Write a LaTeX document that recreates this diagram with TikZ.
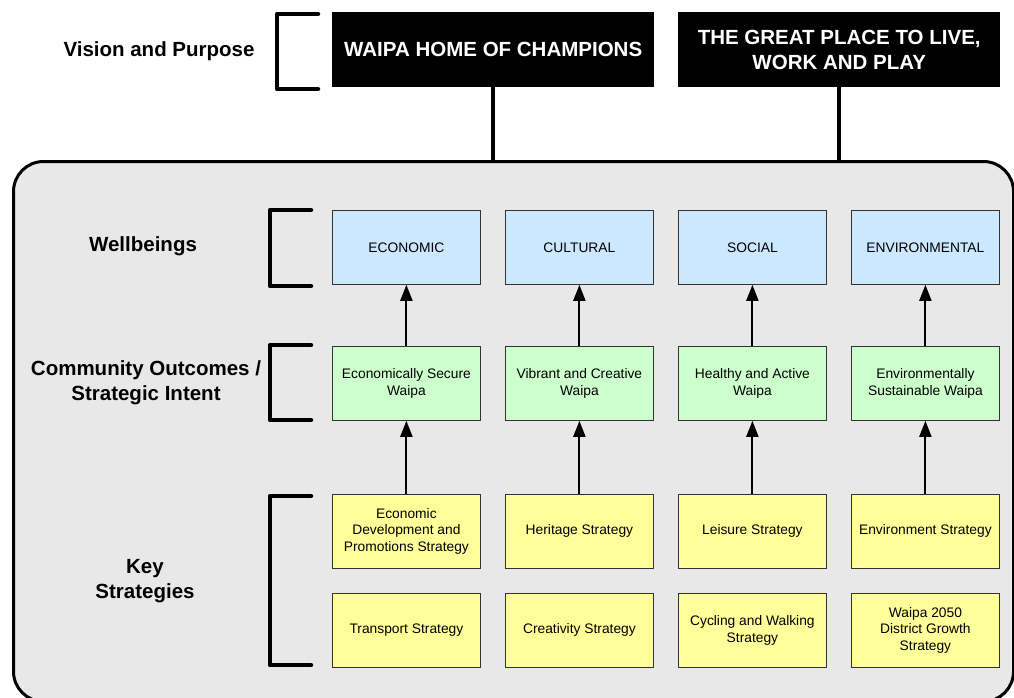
\documentclass[tikz,border=0pt]{standalone}
\usepackage{fontspec}
\setmainfont{Liberation Sans}
\usetikzlibrary{arrows.meta}
\definecolor{panelgray}{HTML}{E8E8E8}
\definecolor{wellblue}{HTML}{CCE8FF}
\definecolor{outgreen}{HTML}{CCFFCC}
\definecolor{stratyellow}{HTML}{FFFF99}
\begin{document}
\begin{tikzpicture}[x=1pt,y=-1pt,
  visionbox/.style={fill=black, text=white, inner sep=0pt, align=center,
    minimum width=322pt, minimum height=75pt, anchor=north west,
    font=\bfseries\fontsize{20.5}{25}\selectfont},
  rowlabel/.style={align=center, font=\bfseries\fontsize{20.5}{25}\selectfont},
  cell/.style={draw=black!80, line width=0.8pt, inner sep=0pt, align=center,
    minimum width=148pt, minimum height=74pt, anchor=north west,
    font=\fontsize{13.8}{16.7}\selectfont},
  wellcell/.style={cell, fill=wellblue},
  outcell/.style={cell, fill=outgreen},
  stratcell/.style={cell, fill=stratyellow},
  bracketline/.style={line width=4.5pt, line cap=round, line join=round},
  upto/.style={line width=2pt, -{Triangle[length=16pt,width=12pt]}},
  stem/.style={line width=4pt}
]
\useasboundingbox (0,0) rectangle (1014,697);

% vision and purpose
\node[rowlabel, anchor=center] (lvision) at (159,51) {Vision and Purpose};
\draw[bracketline] (318,14) -- (277,14) -- (277,89) -- (318,89);
\node[visionbox] (v1) at (332,12) {WAIPA HOME OF CHAMPIONS};
\node[visionbox] (v2) at (678,12) {THE GREAT PLACE TO LIVE,\\WORK AND PLAY};

% framework panel
\node[draw=black, line width=3pt, fill=panelgray, rounded corners=30pt,
  minimum width=1000pt, minimum height=540pt, anchor=north west, inner sep=0pt]
  (panel) at (12,160) {};
\draw[stem] (v1.south) -- (v1.south |- panel.north);
\draw[stem] (v2.south) -- (v2.south |- panel.north);

% row labels and brackets
\node[rowlabel] (lwell) at (143,246) {Wellbeings};
\node[rowlabel] (lout) at (146,383) {Community Outcomes /\\Strategic Intent};
\node[rowlabel] (lkey) at (145,581) {Key\\Strategies};
\draw[bracketline] (311,210) -- (270,210) -- (270,286) -- (311,286);
\draw[bracketline] (311,345) -- (270,345) -- (270,420) -- (311,420);
\draw[bracketline] (311,496) -- (270,496) -- (270,665) -- (311,665);

% wellbeings
\node[wellcell] (w1) at (332,210) {ECONOMIC};
\node[wellcell] (w2) at (505,210) {CULTURAL};
\node[wellcell] (w3) at (678,210) {SOCIAL};
\node[wellcell] (w4) at (851,210) {ENVIRONMENTAL};

% community outcomes
\node[outcell] (o1) at (332,346) {Economically Secure\\Waipa};
\node[outcell] (o2) at (505,346) {Vibrant and Creative\\Waipa};
\node[outcell] (o3) at (678,346) {Healthy and Active\\Waipa};
\node[outcell] (o4) at (851,346) {Environmentally\\Sustainable Waipa};

% key strategies
\node[stratcell] (s1) at (332,494) {Economic\\Development and\\Promotions Strategy};
\node[stratcell] (s2) at (505,494) {Heritage Strategy};
\node[stratcell] (s3) at (678,494) {Leisure Strategy};
\node[stratcell] (s4) at (851,494) {Environment Strategy};
\node[stratcell] (t1) at (332,593) {Transport Strategy};
\node[stratcell] (t2) at (505,593) {Creativity Strategy};
\node[stratcell] (t3) at (678,593) {Cycling and Walking\\Strategy};
\node[stratcell] (t4) at (851,593) {Waipa 2050\\District Growth\\Strategy};

% links between levels
\foreach \i in {1,2,3,4} {
  \draw[upto] (o\i.north) -- (w\i.south);
  \draw[upto] (s\i.north) -- (o\i.south);
}
\end{tikzpicture}
\end{document}
